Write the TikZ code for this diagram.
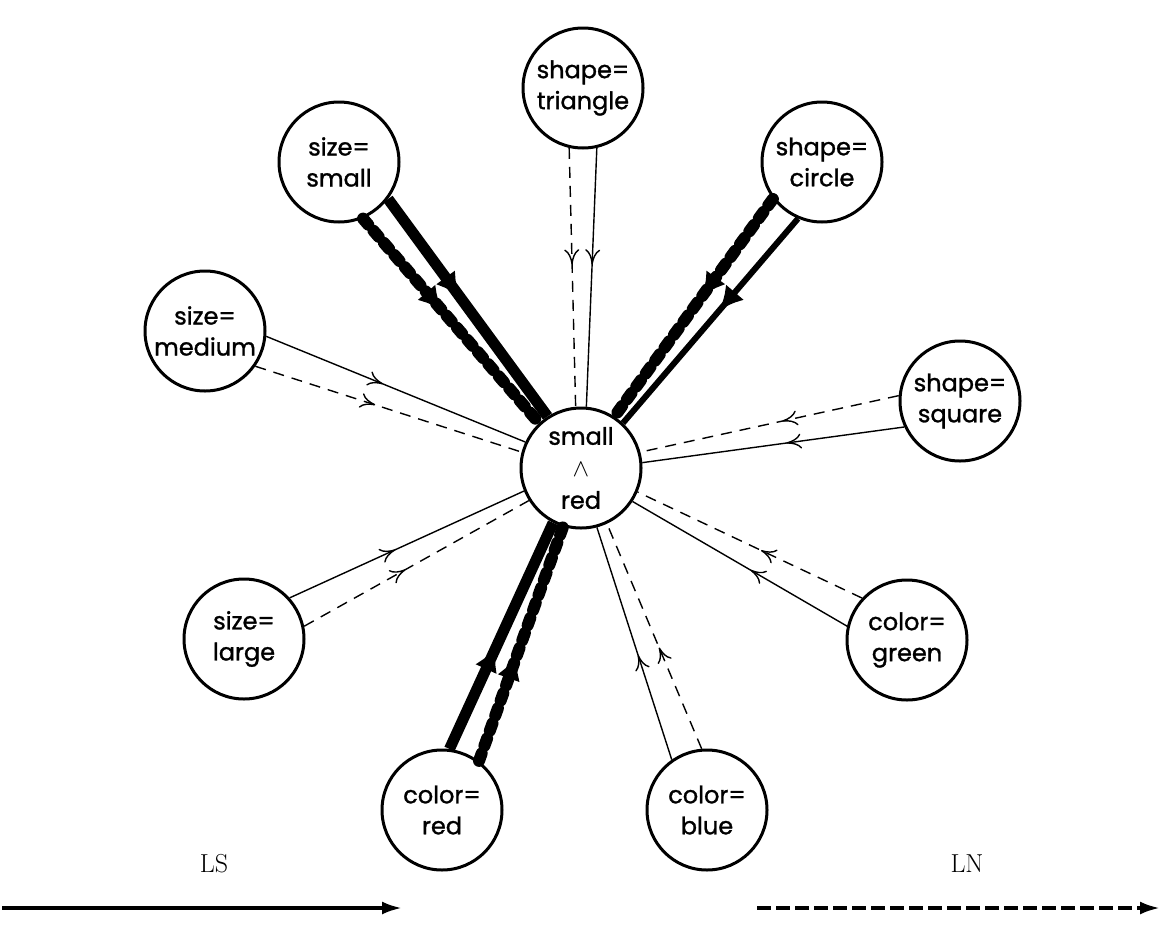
\documentclass[tikz,border=0pt]{standalone}
\usepackage{fontspec}
\newfontfamily\nodefont{Poppins}[FakeBold=1.2]
\usetikzlibrary{arrows.meta,decorations.markings}

\tikzset{
  state/.style={circle, draw, line width=3pt, minimum size=120pt, inner sep=0pt,
    align=center, font=\nodefont\fontsize{24}{31}\selectfont},
  midtip/.style={postaction={decorate},
    decoration={markings, mark=at position 0.45 with {\arrow{#1}}}},
  thinhead/.tip={Computer Modern Rightarrow[length=15pt,width=15pt,line width=1.4pt]},
  thickhead/.tip={Latex[length=24pt,width=24pt]},
  lsthin/.style={line width=1.4pt, midtip=thinhead},
  lnthin/.style={line width=1.4pt, dash pattern=on 11pt off 8pt, midtip=thinhead},
  lsthick/.style={line width=11pt, midtip=thickhead},
  lnthick/.style={line width=12pt, line cap=round, dash pattern=on 8pt off 8pt, midtip=thickhead},
  legendlabel/.style={font=\fontsize{26}{30}\selectfont, inner sep=0pt},
  legendline/.style={line width=3.5pt, -{Latex[length=20pt,width=13pt]}}
}

\begin{document}
\begin{tikzpicture}[x=1pt,y=-1pt]
\useasboundingbox (0,0) rectangle (1160,943);

% concept nodes
\node[state] (C)  at (581,468) {small\\[1pt]$\wedge$\\[1pt]red};
\node[state] (T)  at (583,88)  {shape=\\triangle};
\node[state] (SS) at (339,162) {size=\\small};
\node[state] (SC) at (822,162) {shape=\\circle};
\node[state] (M)  at (205,331) {size=\\medium};
\node[state] (SQ) at (960,401) {shape=\\square};
\node[state] (L)  at (244,639) {size=\\large};
\node[state] (G)  at (907,640) {color=\\green};
\node[state] (R)  at (442,810) {color=\\red};
\node[state] (B)  at (707,810) {color=\\blue};

% links into the conjunction: solid = LS, dashed = LN
\draw[lsthin]  (T.-77)  -- (C.85);
\draw[lnthin]  (T.-103) -- (C.95);

\draw[lsthick] (SS.-37) -- (C.123);
\draw[lnthick] (SS.-67) -- (C.133);

\draw[lsthick, line width=6pt] (SC.247) -- (C.47);
\draw[lnthick] (SC.217) -- (C.57);

\draw[lsthin]  (M.-5)   -- (C.155);
\draw[lnthin]  (M.-35)  -- (C.165);

\draw[lsthin]  (SQ.205) -- (C.5);
\draw[lnthin]  (SQ.175) -- (C.15);

\draw[lsthin]  (L.42)   -- (C.202);
\draw[lnthin]  (L.12)   -- (C.212);

\draw[lsthin]  (G.167)  -- (C.327);
\draw[lnthin]  (G.137)  -- (C.337);

\draw[lsthick] (R.83)   -- (C.243);
\draw[lnthick] (R.53)   -- (C.253);

\draw[lsthin]  (B.125)  -- (C.285);
\draw[lnthin]  (B.95)   -- (C.295);

% legend
\node[legendlabel] (lslab) at (214,864) {LS};
\node[legendlabel] (lnlab) at (967,864) {LN};
\coordinate (ls0) at (2,908);
\coordinate (ls1) at (402,908);
\coordinate (ln0) at (757,908);
\coordinate (ln1) at (1160,908);
\draw[legendline] (ls0) -- (ls1);
\draw[legendline, dash pattern=on 14pt off 5pt] (ln0) -- (ln1);
\end{tikzpicture}
\end{document}
